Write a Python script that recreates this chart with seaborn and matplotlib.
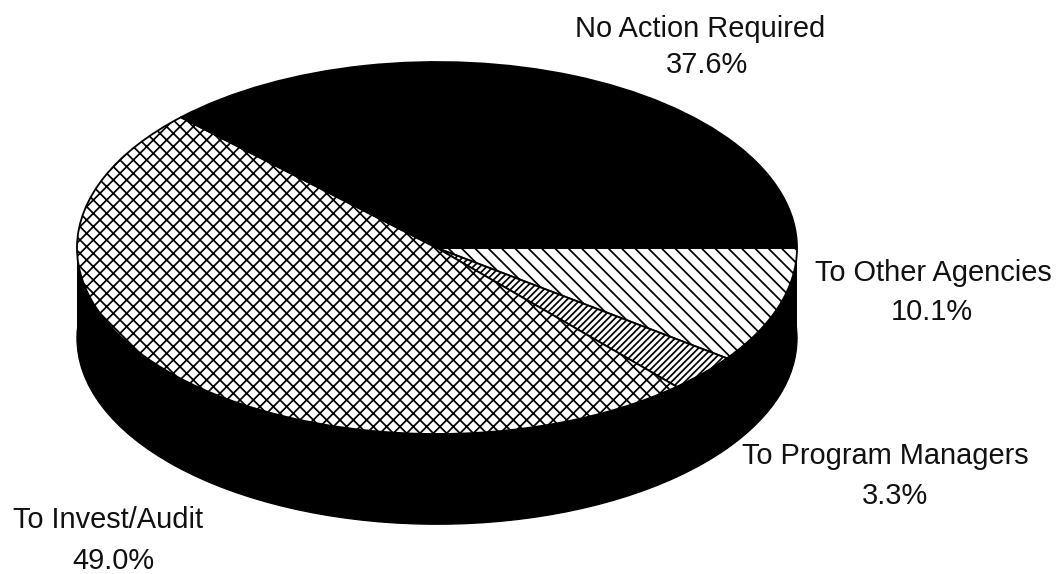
import matplotlib
matplotlib.use("Agg")
import matplotlib.pyplot as plt
import seaborn as sns

categories = ["To Other Agencies", "To Program Managers", "To Invest/Audit", "No Action Required"]
shares = [10.1, 3.3, 49.0, 37.6]
hatches = ["\\\\\\", "//////", "xxx", None]
face_colors = ["white", "white", "white", "black"]

sns.set_theme(style="white")
plt.rcParams["font.family"] = ["Liberation Sans", "DejaVu Sans"]
plt.rcParams["hatch.linewidth"] = 1.05

DPI = 120
fig = plt.figure(figsize=(1059 / DPI, 574 / DPI), dpi=DPI)
ax = fig.add_axes([0, 0, 1, 1])

# Disc thickness in pie-radius units
depth = 0.485

# Side wall: lower rim plus the band joining it to the top face
ax.pie(shares, radius=1, center=(0, -depth), startangle=0, counterclock=False,
       colors=["black"] * len(shares), frame=False,
       wedgeprops=dict(edgecolor="black", linewidth=0.8))
ax.fill_between([-1, 1], -depth, 0, color="black", lw=0)

# Top face, running clockwise from the right-hand rim
wedges, _ = ax.pie(shares, radius=1, center=(0, 0), startangle=0, counterclock=False,
                   colors=face_colors, hatch=hatches, frame=False,
                   wedgeprops=dict(edgecolor="black", linewidth=1.1))

ax.set_aspect("auto")
ax.set_xlim(-437 / 360, (1059 - 437) / 360)
ax.set_ylim(-(574 - 248) / 186, 248 / 186)

# Label anchors in pixels: name centre, then value centre
name_pos = [(933, 273), (885, 456), (108, 520), (700, 29)]
value_pos = [(932, 312), (895, 496), (113, 561), (707, 65)]

fs = 17.4
for name, value, (nx, ny), (vx, vy) in zip(categories, shares, name_pos, value_pos):
    fig.text(nx / 1059, 1 - ny / 574, name, ha="center", va="center", fontsize=fs, color="#111111")
    fig.text(vx / 1059, 1 - vy / 574, f"{value:.1f}%", ha="center", va="center", fontsize=fs, color="#111111")

fig.savefig("out.png", dpi=DPI)
